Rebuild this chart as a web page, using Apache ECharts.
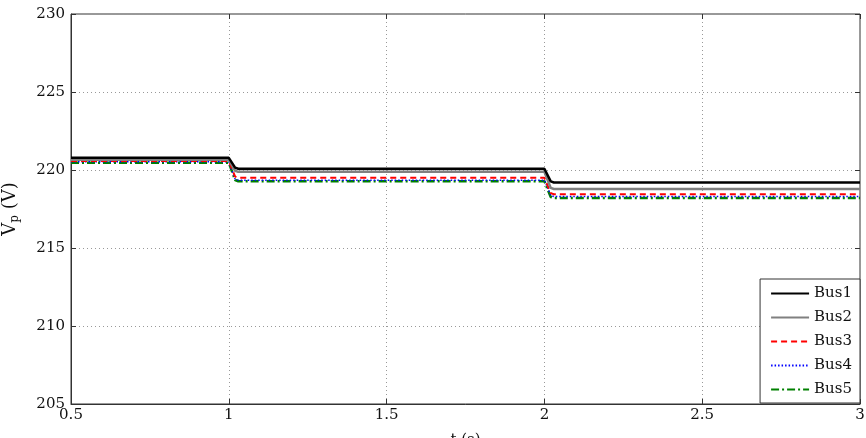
<!DOCTYPE html>
<html>
<head>
<meta charset="utf-8">
<script src="https://cdn.jsdelivr.net/npm/echarts@6/dist/echarts.min.js"></script>
<style>html,body{margin:0;padding:0;background:#fff}#c{width:866px;height:438px}</style>
</head>
<body>
<div id="c"></div>
<script>
const t    = [0.5, 1.0, 1.005, 1.02, 1.03, 2.0, 2.005, 2.02, 2.03, 3.0];
const bus1 = [220.78, 220.78, 220.70, 220.15, 220.08, 220.08, 220.00, 219.27, 219.20, 219.20];
const bus2 = [220.66, 220.66, 220.58, 219.95, 219.88, 219.88, 219.80, 218.85, 218.78, 218.78];
const bus3 = [220.58, 220.58, 220.50, 219.58, 219.50, 219.50, 219.42, 218.52, 218.45, 218.45];
const bus4 = [220.53, 220.53, 220.45, 219.42, 219.35, 219.35, 219.27, 218.37, 218.30, 218.30];
const bus5 = [220.47, 220.47, 220.39, 219.36, 219.28, 219.28, 219.20, 218.27, 218.20, 218.20];
const names = ['Bus1','Bus2','Bus3','Bus4','Bus5'];
const xTicks = [0.5, 1, 1.5, 2, 2.5, 3];
const yTicks = [205, 210, 215, 220, 225, 230];

const FONT = 'DejaVu Serif';
const pair = arr => t.map((x, i) => [x, arr[i]]);
const styles = [
  {color:'#000000', width:2.5, type:'solid'},
  {color:'#808080', width:2.5, type:'solid'},
  {color:'#ff0000', width:2, type:[6,4]},
  {color:'#0000ff', width:1.5, type:[1.5,2]},
  {color:'#008000', width:2.5, type:[8,3,2,3]}
];
const data = [bus1,bus2,bus3,bus4,bus5];
const chart = echarts.init(document.getElementById('c'), null, {renderer:'canvas'});
const axisCommon = {
  axisLine:{lineStyle:{color:'#333', width:1}},
  axisTick:{inside:true, length:5, lineStyle:{color:'#333'}},
  axisLabel:{color:'#111', fontFamily:FONT, fontSize:15},
  splitLine:{show:true, lineStyle:{color:'#999', type:[1,3], width:1}}
};
chart.setOption({
  animation:false,
  grid:{left:71, right:6, top:14, bottom:34, containLabel:false, outerBoundsMode:'none',
        show:true, borderColor:'#333', borderWidth:1, backgroundColor:'#fff'},
  xAxis:[{
    type:'value', min:0.5, max:3, interval:0.5, position:'bottom',
    name:'t (s)', nameLocation:'middle', nameGap:29,
    nameTextStyle:{fontFamily:FONT, fontSize:15, color:'#111'},
    ...axisCommon,
    axisLabel:{...axisCommon.axisLabel, margin:4, formatter:v => xTicks.includes(v) ? String(v) : ''}
  },{
    type:'value', min:0.5, max:3, interval:0.5, position:'top',
    axisLine:{show:false}, axisTick:{inside:true, length:5, lineStyle:{color:'#333'}},
    axisLabel:{show:false}, splitLine:{show:false}
  }],
  yAxis:[{
    type:'value', min:205, max:230, interval:5, position:'left',
    name:'{v|V}{p|p}{v| (V)}', nameLocation:'middle', nameGap:50, nameRotate:90,
    nameTextStyle:{fontFamily:FONT, color:'#111', rich:{
      v:{fontFamily:FONT, fontSize:18, color:'#111'},
      p:{fontFamily:FONT, fontSize:12, color:'#111', padding:[10,0,0,0]}
    }},
    ...axisCommon,
    axisLabel:{...axisCommon.axisLabel, margin:6, formatter:v => yTicks.includes(v) ? String(v) : ''}
  },{
    type:'value', min:205, max:230, interval:5, position:'right',
    axisLine:{show:false}, axisTick:{inside:true, length:5, lineStyle:{color:'#333'}},
    axisLabel:{show:false}, splitLine:{show:false}
  }],
  legend:{
    data:names, orient:'vertical', right:6, bottom:35,
    backgroundColor:'#fff', borderColor:'#333', borderWidth:1, borderRadius:0,
    padding:[7,8,6,10], itemWidth:38, itemHeight:14, itemGap:9,
    itemStyle:{opacity:0},
    textStyle:{fontFamily:FONT, fontSize:15, color:'#111'}
  },
  series: names.map((n, i) => ({
    name:n, type:'line', xAxisIndex:0, yAxisIndex:0, data:pair(data[i]),
    symbol:'none', smooth:false, z:10-i,
    lineStyle:{color:styles[i].color, width:styles[i].width, type:styles[i].type},
    itemStyle:{color:styles[i].color}
  }))
});
</script>
</body>
</html>
